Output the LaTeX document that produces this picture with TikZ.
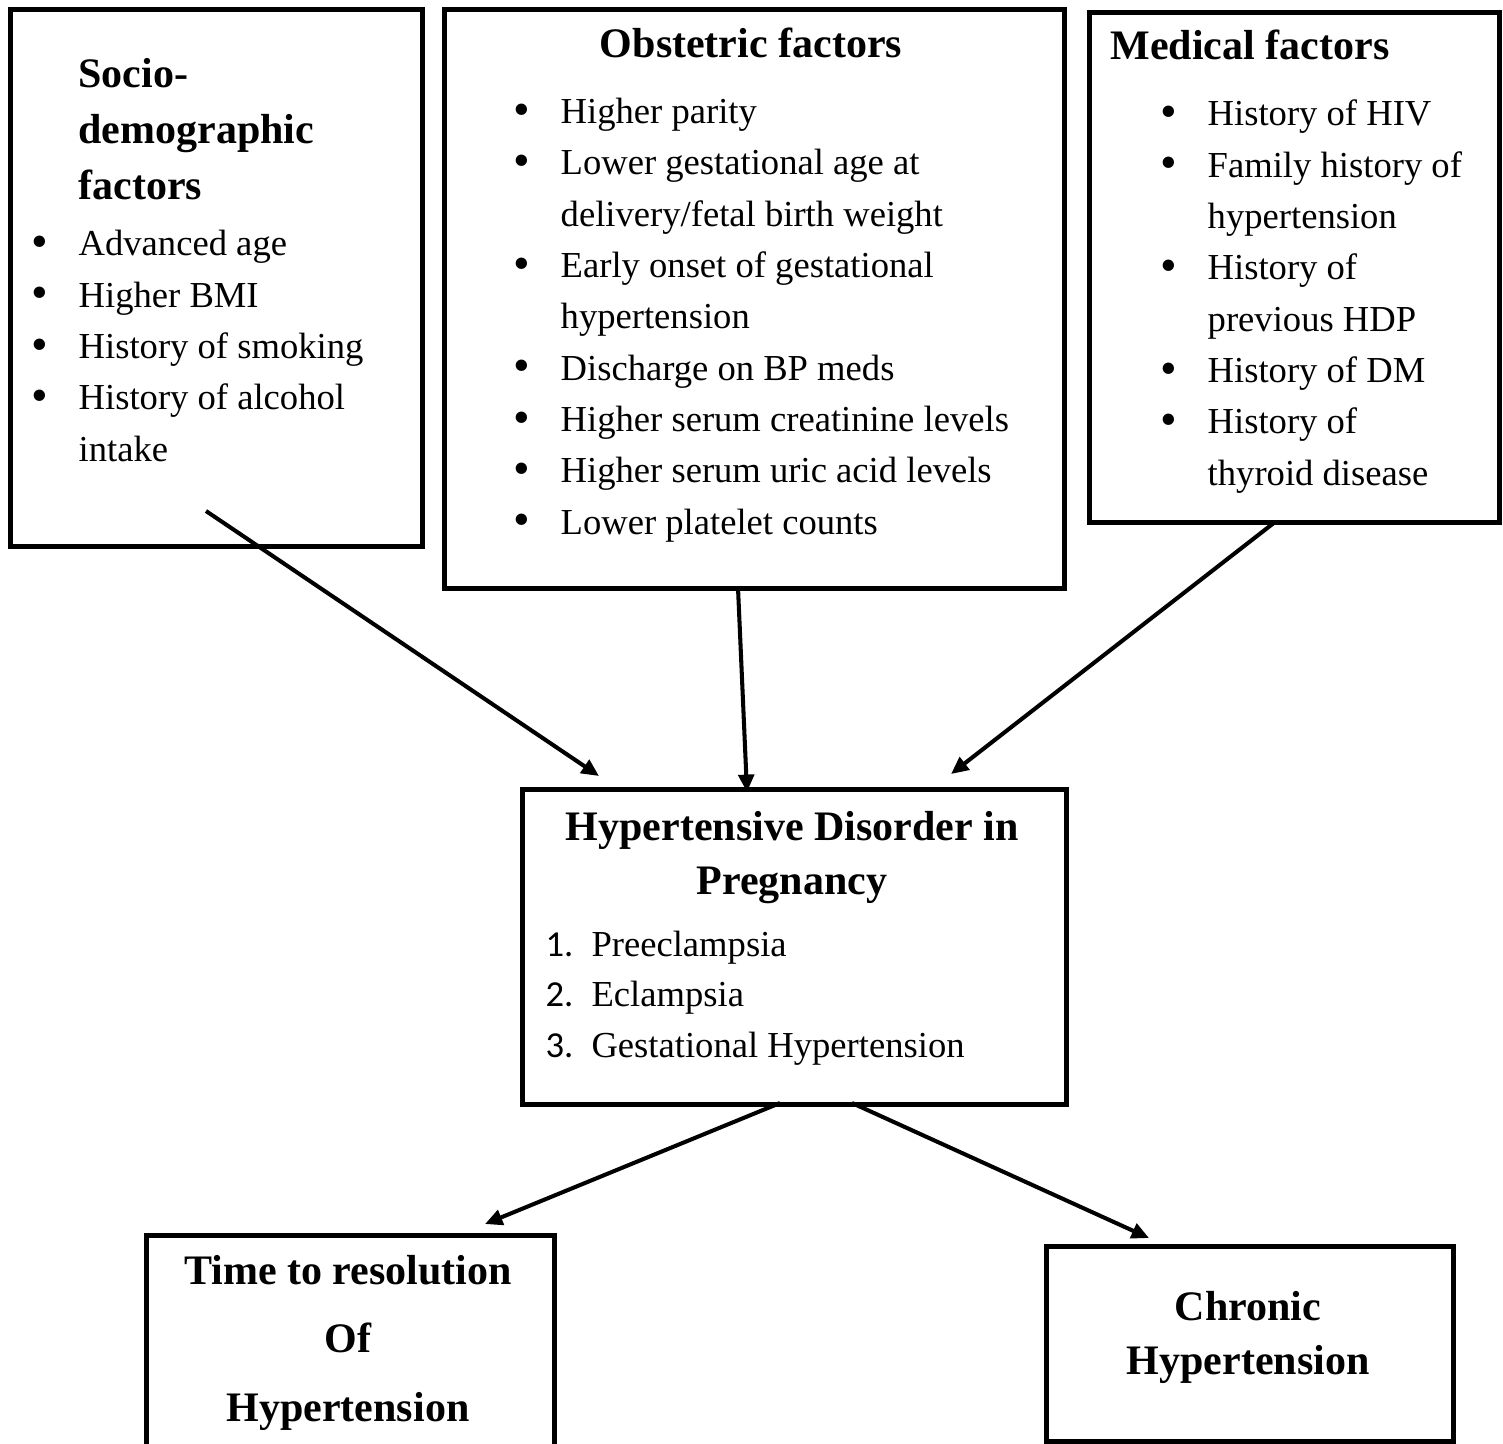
\documentclass[tikz,border=0pt]{standalone}
\usepackage{fontspec}
\setmainfont{Liberation Serif}
\newfontfamily\numfont{Carlito}
\usetikzlibrary{arrows.meta}

\newcommand{\blt}{\makebox[15.7pt][l]{\raisebox{-0.6pt}{\scalebox{1.3}{\textbullet}}}}
\newcommand{\contline}{\hspace*{15.7pt}}
\newcommand{\itemnum}[1]{\makebox[15.3pt][l]{\numfont #1.}}

\begin{document}
\begin{tikzpicture}[x=0.3333pt, y=-0.3333pt,
  box/.style={draw, line width=1.6pt, anchor=north west, inner sep=0pt},
  head/.style={font=\bfseries\fontsize{14}{18.7}\selectfont, inner sep=0pt, anchor=base},
  list/.style={font=\fontsize{12.2}{17.1}\selectfont, align=left, inner sep=0pt, anchor=base west},
  arr/.style={line width=1.35pt, -{Triangle[length=5.8pt, width=5.2pt]}}]
  \useasboundingbox (0,0) rectangle (1503,1443);

  % boxes
  \node[box, minimum width=137.33pt, minimum height=179pt] (socio) at (8,7) {};
  \node[box, minimum width=206.67pt, minimum height=193pt] (obst) at (442,7) {};
  \node[box, minimum width=136.67pt, minimum height=170pt] (med) at (1087,10) {};
  \node[box, minimum width=181.33pt, minimum height=105pt] (hdp) at (520,787) {};
  \node[box, minimum width=136pt, minimum height=82.3pt] (time) at (144,1233) {};
  \node[box, minimum width=135.67pt, minimum height=65pt] (chron) at (1044,1244) {};

  % socio-demographic (nodes sit on the baseline of their last line)
  \node[head, anchor=base west, align=left] (sociohead) at (78,200) {Socio-\\demographic\\factors};
  \node[list] (sociolist) at (31,461) {\blt Advanced age\\ \blt Higher BMI\\
    \blt History of smoking\\ \blt History of alcohol\\ \contline intake};

  % obstetric
  \node[head] (obsthead) at (751,58) {Obstetric factors};
  \node[list] (obstlist) at (513,534) {\blt Higher parity\\
    \blt Lower gestational age at\\ \contline delivery/fetal birth weight\\
    \blt Early onset of gestational\\ \contline hypertension\\
    \blt Discharge on BP meds\\ \blt Higher serum creatinine levels\\
    \blt Higher serum uric acid levels\\ \blt Lower platelet counts};

  % medical
  \node[head, anchor=base west] (medhead) at (1110,60) {Medical factors};
  \node[list] (medlist) at (1160,485) {\blt History of HIV\\
    \blt Family history of\\ \contline hypertension\\
    \blt History of\\ \contline previous HDP\\ \blt History of DM\\
    \blt History of\\ \contline thyroid disease};

  % outcome boxes
  \node[head, align=center, font=\bfseries\fontsize{14}{17.7}\selectfont] (hdphead) at (792,894) {Hypertensive Disorder in\\Pregnancy};
  \node[list, font=\fontsize{12.2}{16.7}\selectfont] (hdplist) at (545,1057) {\itemnum{1}Preeclampsia\\
    \itemnum{2}Eclampsia\\ \itemnum{3}Gestational Hypertension};
  \node[head, align=center, font=\bfseries\fontsize{14}{22.7}\selectfont] (timehead) at (348,1421) {Time to resolution\\Of\\Hypertension};
  \node[head, align=center, font=\bfseries\fontsize{14}{18}\selectfont] (chronhead) at (1248,1374) {Chronic\\Hypertension};

  % arrows
  \coordinate (s1) at (206,511);  \coordinate (h1) at (599,776);
  \coordinate (o1) at (738,588);  \coordinate (h2) at (747,792);
  \coordinate (m1) at (1275,522); \coordinate (h3) at (951,774);
  \coordinate (h4) at (780,1103); \coordinate (t1) at (485,1224);
  \coordinate (h5) at (852,1103); \coordinate (c1) at (1149,1238);
  \draw[arr] (s1) -- (h1);
  \draw[arr] (o1) -- (h2);
  \draw[arr] (m1) -- (h3);
  \draw[arr] (h4) -- (t1);
  \draw[arr] (h5) -- (c1);
\end{tikzpicture}
\end{document}
